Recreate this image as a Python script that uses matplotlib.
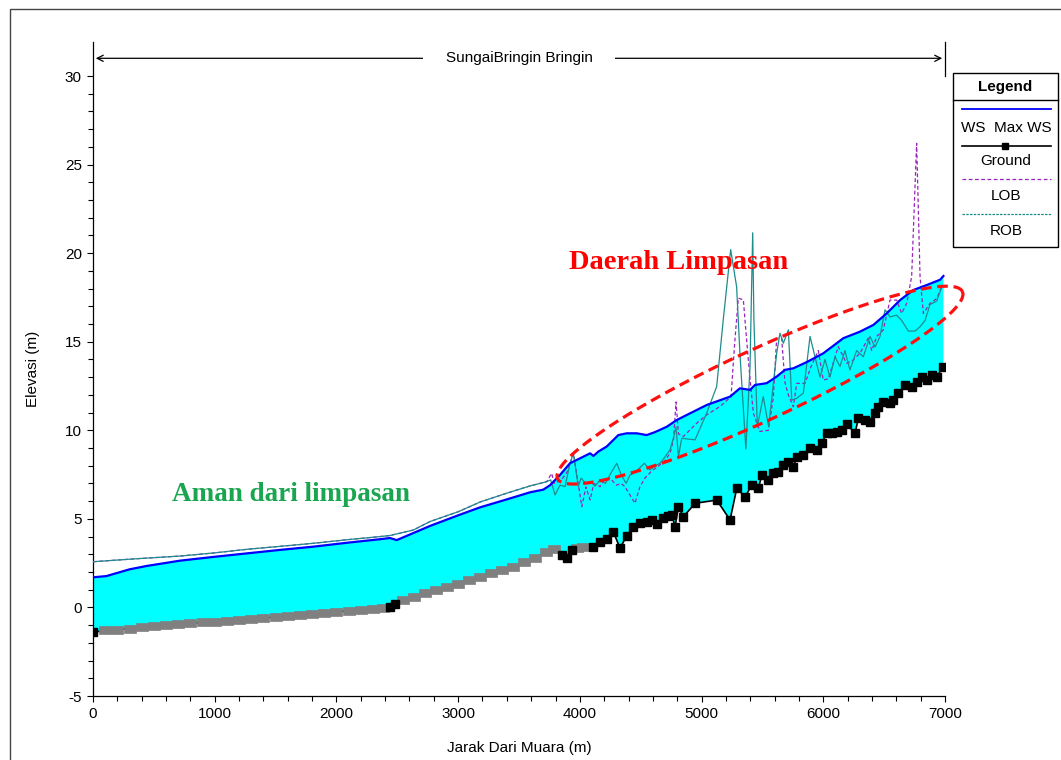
import numpy as np
import matplotlib
matplotlib.use('Agg')
import matplotlib.pyplot as plt
from matplotlib.patches import Rectangle
from matplotlib.lines import Line2D

plt.rcParams['font.family'] = ['Liberation Sans', 'DejaVu Sans']
plt.rcParams['axes.unicode_minus'] = False

# ---------------- profile data (station m, elevation m) ----------------
# ground / channel invert, interp = 1 for interpolated cross sections
ground_x = [0, 100, 200, 300, 400, 500, 600, 700, 800, 900, 1000, 1100, 1200, 1300,
            1400, 1500, 1600, 1700, 1800, 1900, 2000, 2100, 2200, 2300, 2380, 2440,
            2480, 2550, 2640, 2730, 2820, 2910, 3000, 3090, 3180, 3270, 3360, 3450,
            3540, 3630, 3720, 3790, 3850, 3892, 3933, 3974, 4029, 4111, 4166, 4220,
            4275, 4330, 4385, 4440, 4495, 4550, 4591, 4632, 4687, 4728, 4756, 4782,
            4810, 4851, 4947, 5125, 5234, 5289, 5358, 5413, 5467, 5495, 5549, 5590,
            5631, 5672, 5713, 5754, 5782, 5836, 5891, 5946, 5987, 6028, 6069, 6110,
            6151, 6192, 6261, 6288, 6343, 6384, 6425, 6453, 6494, 6549, 6576, 6617,
            6672, 6727, 6768, 6809, 6850, 6891, 6932, 6987]
ground_z = [-1.40, -1.30, -1.25, -1.19, -1.12, -1.06, -1.01, -0.95, -0.90, -0.85, -0.80,
            -0.75, -0.70, -0.65, -0.60, -0.55, -0.49, -0.43, -0.37, -0.31, -0.25, -0.19,
            -0.13, -0.07, -0.03, 0.00, 0.22, 0.42, 0.60, 0.80, 0.98, 1.17, 1.35, 1.55,
            1.73, 1.92, 2.10, 2.30, 2.55, 2.80, 3.12, 3.30, 2.96, 2.80, 3.24, 3.34,
            3.43, 3.40, 3.71, 3.85, 4.27, 3.34, 4.05, 4.56, 4.76, 4.84, 4.93, 4.71,
            5.03, 5.16, 5.22, 4.56, 5.67, 5.12, 5.88, 6.06, 4.94, 6.72, 6.25, 6.91,
            6.72, 7.48, 7.19, 7.57, 7.66, 8.04, 8.23, 7.94, 8.51, 8.61, 8.98, 8.89,
            9.27, 9.83, 9.83, 9.92, 10.02, 10.36, 9.83, 10.68, 10.58, 10.49, 10.96,
            11.33, 11.62, 11.56, 11.71, 12.09, 12.56, 12.46, 12.75, 13.03, 12.84,
            13.12, 13.03, 13.59]
ground_interp = [0] + [1] * 24 + [0, 0] + [1] * 15 + [0, 0, 0, 1, 1] + [0] * 59

# water surface (WS / Max WS)
ws_x = [0, 110, 300, 440, 715, 1000, 1263, 1540, 1810, 2085, 2358, 2440, 2495, 2769,
        3000, 3180, 3400, 3591, 3700, 3755, 3837, 3919, 4002, 4084, 4111, 4152, 4220,
        4316, 4385, 4467, 4549, 4618, 4714, 4796, 4906, 5043, 5234, 5315, 5398, 5439,
        5535, 5617, 5685, 5754, 5864, 6001, 6165, 6302, 6412, 6521, 6631, 6740, 6850,
        6960, 6987]
ws_z = [1.70, 1.77, 2.15, 2.34, 2.64, 2.86, 3.05, 3.25, 3.43, 3.65, 3.85, 3.92, 3.80,
        4.60, 5.20, 5.65, 6.10, 6.50, 6.65, 6.90, 7.48, 8.14, 8.42, 8.70, 8.55, 8.80,
        9.08, 9.73, 9.83, 9.83, 9.73, 9.90, 10.20, 10.58, 10.96, 11.43, 11.90, 12.37,
        12.28, 12.56, 12.66, 13.03, 13.41, 13.50, 13.85, 14.35, 15.20, 15.57, 15.95,
        16.60, 17.35, 17.92, 18.20, 18.50, 18.71]

# left / right overbank stations, shared downstream reach
bank_x = [0, 360, 715, 1000, 1263, 1540, 1810, 2085, 2358, 2440, 2632, 2769, 3000,
          3180, 3400, 3591, 3728]
bank_z = [2.58, 2.75, 2.90, 3.08, 3.28, 3.45, 3.62, 3.82, 4.00, 4.06, 4.37, 4.85, 5.40,
          5.95, 6.45, 6.86, 7.10]

lob_x = [3768, 3790, 3820, 3860, 3900, 3947, 3975, 4016, 4050, 4084, 4115, 4166, 4200,
         4248, 4300, 4340, 4370, 4453, 4494, 4535, 4590, 4640, 4700, 4741, 4770, 4790,
         4810, 4851, 4960, 5042, 5151, 5242, 5274, 5302, 5343, 5384, 5425, 5480, 5549,
         5590, 5617, 5658, 5685, 5713, 5754, 5782, 5850, 5900, 5959, 6000, 6041, 6123,
         6192, 6247, 6301, 6370, 6398, 6439, 6493, 6548, 6603, 6644, 6685, 6726, 6767,
         6795, 6822, 6877, 6932, 6973]
lob_z = [7.57, 7.00, 7.10, 7.30, 7.70, 8.70, 7.50, 5.69, 6.80, 6.07, 7.00, 6.82, 7.20,
         7.30, 6.90, 7.00, 6.82, 5.88, 6.82, 7.30, 7.70, 7.95, 8.30, 8.70, 9.50, 11.60,
         9.80, 9.65, 10.40, 10.87, 11.34, 11.90, 15.10, 17.46, 17.37, 13.97, 10.97, 9.93,
         10.00, 11.90, 15.20, 15.20, 12.70, 12.00, 11.33, 12.65, 12.65, 13.60, 14.50,
         12.84, 12.90, 14.72, 13.78, 13.97, 14.35, 15.20, 14.50, 15.30, 15.66, 17.35,
         17.35, 16.60, 17.16, 18.67, 26.20, 18.67, 16.60, 17.16, 17.44, 18.10]

rob_x = [3760, 3796, 3837, 3878, 3919, 3947, 3987, 4010, 4050, 4084, 4125, 4166, 4210,
         4248, 4303, 4340, 4380, 4412, 4450, 4494, 4530, 4576, 4620, 4659, 4700, 4741,
         4770, 4790, 4810, 4837, 4946, 5042, 5124, 5178, 5239, 5288, 5315, 5364, 5398,
         5420, 5430, 5458, 5507, 5551, 5617, 5644, 5672, 5713, 5741, 5780, 5836, 5891,
         5932, 5973, 6014, 6055, 6096, 6137, 6178, 6219, 6274, 6329, 6384, 6425, 6466,
         6507, 6548, 6603, 6644, 6699, 6753, 6795, 6836, 6877, 6932, 6973]
rob_z = [7.20, 6.35, 6.90, 6.82, 8.14, 8.70, 6.82, 7.30, 7.00, 7.10, 6.85, 7.20, 7.00,
         7.50, 8.14, 7.48, 7.00, 7.48, 7.60, 7.90, 8.14, 7.76, 8.00, 8.14, 8.50, 8.90,
         9.60, 10.20, 8.52, 9.55, 9.46, 10.97, 12.47, 16.23, 20.20, 18.10, 14.35, 8.94,
         13.60, 21.15, 16.23, 10.20, 11.90, 10.20, 14.35, 15.48, 14.92, 15.67, 11.70,
         11.80, 12.10, 15.30, 14.15, 13.00, 14.00, 13.00, 14.15, 13.60, 14.50, 13.40,
         14.50, 14.15, 15.30, 14.70, 15.30, 16.80, 16.40, 16.50, 16.20, 15.60, 15.60,
         15.85, 16.20, 17.10, 17.30, 18.10]

x_ticks = [0, 1000, 2000, 3000, 4000, 5000, 6000, 7000]
y_ticks = [-5, 0, 5, 10, 15, 20, 25, 30]
reach_name = 'SungaiBringin Bringin'

# ---------------- figure ----------------
W, H = 1061, 760
fig = plt.figure(figsize=(W / 100, H / 100), dpi=100)
ax = fig.add_axes([93 / W, 64 / H, 852 / W, 654 / H])
ax.set_xlim(0, 7000)
ax.set_ylim(-5, 31.92)

gx = np.array(ground_x, float)
gz = np.array(ground_z, float)
gi = np.array(ground_interp, bool)

# water body between WS and ground
ax.fill(np.r_[ws_x, gx[::-1]], np.r_[ws_z, gz[::-1]], color='#00FFFF', lw=0, zorder=1)

# overbank lines
lob_all_x = bank_x + lob_x
lob_all_z = bank_z + lob_z
rob_all_x = bank_x + rob_x
rob_all_z = bank_z + rob_z
ax.plot(lob_all_x, lob_all_z, color='#9922BB', lw=0.9, ls=(0, (3, 2)), zorder=3)
ax.plot(rob_all_x, rob_all_z, color='#1E8C8C', lw=0.9, zorder=3.5)

ax.plot(ws_x, ws_z, color='#0000FF', lw=1.6, zorder=4)

# ground line with cross-section markers (interpolated ones as wide grey blocks)
block = [(-0.85, -0.5), (0.85, -0.5), (0.85, 0.5), (-0.85, 0.5), (-0.85, -0.5)]
ax.plot(gx, gz, color='black', lw=1.2, zorder=5)
ax.plot(gx[gi], gz[gi], ls='none', marker=block, ms=9, mfc='#808080', mec='#808080',
        mew=0.5, zorder=6)
ax.plot(gx[~gi], gz[~gi], ls='none', marker='s', ms=5.3, mfc='black', mec='black', zorder=7)

# flooded zone outline, drawn in screen space and mapped back to data
ax_w_px = 852.0
ax_h_px = 654.0
sx = ax_w_px / 7000.0
sz = ax_h_px / (31.92 + 5)
ell_cx, ell_cz = 5480, 12.55
ell_a, ell_b, ell_ang = 223, 35.5, np.radians(24.8)
t = np.linspace(0, 2 * np.pi, 300)
dx = ell_a * np.cos(t) * np.cos(ell_ang) - ell_b * np.sin(t) * np.sin(ell_ang)
dy = ell_a * np.cos(t) * np.sin(ell_ang) + ell_b * np.sin(t) * np.cos(ell_ang)
ax.plot(ell_cx + dx / sx, ell_cz + dy / sz, color='#FF1010', lw=2.3,
        ls=(0, (3.3, 1.8)), zorder=8, clip_on=False)

ax.text(4810, 19.45, 'Daerah Limpasan', color='#FF0000', fontsize=20.5,
        fontweight='bold', family='Liberation Serif', ha='center', va='center', zorder=9)
ax.text(1627, 6.4, 'Aman dari limpasan', color='#1AA550', fontsize=19.5,
        fontweight='bold', family='Liberation Serif', ha='center', va='center', zorder=9)

# reach name arrow across the top
ax.annotate('', xy=(0, 31), xytext=(7000, 31),
            arrowprops=dict(arrowstyle='<->', color='black', lw=0.9,
                            mutation_scale=11), annotation_clip=False)
ax.text(3500, 31, reach_name, ha='center', va='center', fontsize=11,
        bbox=dict(boxstyle='square,pad=1.5', fc='white', ec='none'))
ax.plot([7000, 7000], [30, 31.92], color='black', lw=0.9, clip_on=False)

# axes styling
for s in ['top', 'right']:
    ax.spines[s].set_visible(False)
ax.spines['left'].set_linewidth(0.9)
ax.spines['bottom'].set_linewidth(0.9)
ax.set_xticks(x_ticks)
ax.set_yticks(y_ticks)
ax.set_xticks(np.arange(0, 7001, 200), minor=True)
ax.set_yticks(np.arange(-5, 31, 1), minor=True)
ax.tick_params(which='both', direction='out', width=0.8, labelsize=11)
ax.tick_params(which='major', length=4.5)
ax.tick_params(which='minor', length=3.5)
ax.set_xlabel('Jarak Dari Muara (m)', fontsize=11, labelpad=14)
ax.set_ylabel('Elevasi (m)', fontsize=11, labelpad=18)

# legend panel
def fx(px):
    return px / W

def fy(py):
    return 1 - py / H

fig.patches.append(Rectangle((fx(953), fy(247)), fx(1058) - fx(953), fy(73) - fy(247),
                             transform=fig.transFigure, fill=False, ec='black', lw=1))
fig.lines.append(Line2D([fx(953), fx(1058)], [fy(100), fy(100)],
                        transform=fig.transFigure, color='black', lw=1))
fig.text(fx(1005), fy(87), 'Legend', ha='center', va='center', fontsize=11, fontweight='bold')
legend_rows = [
    (109, 128, 'WS  Max WS', dict(color='#0000FF', lw=1.3)),
    (146, 161, 'Ground', dict(color='black', lw=1.2, marker='s', ms=5, markevery=[1])),
    (179, 196, 'LOB', dict(color='#9922BB', lw=0.9, ls=(0, (3, 2)))),
    (214, 231, 'ROB', dict(color='#1E8C8C', lw=0.9, ls=(0, (2, 1)))),
]
for ly, ty, label, style in legend_rows:
    fig.lines.append(Line2D([fx(962), fx(1005), fx(1051)], [fy(ly)] * 3,
                            transform=fig.transFigure, **style))
    fig.text(fx(1006), fy(ty), label, ha='center', va='center', fontsize=11)

# outer frame
fig.patches.append(Rectangle((fx(10), -0.05), 1.0, fy(9) + 0.05,
                             transform=fig.transFigure, fill=False, ec='#444444', lw=1))

fig.savefig('out.png', dpi=100)
